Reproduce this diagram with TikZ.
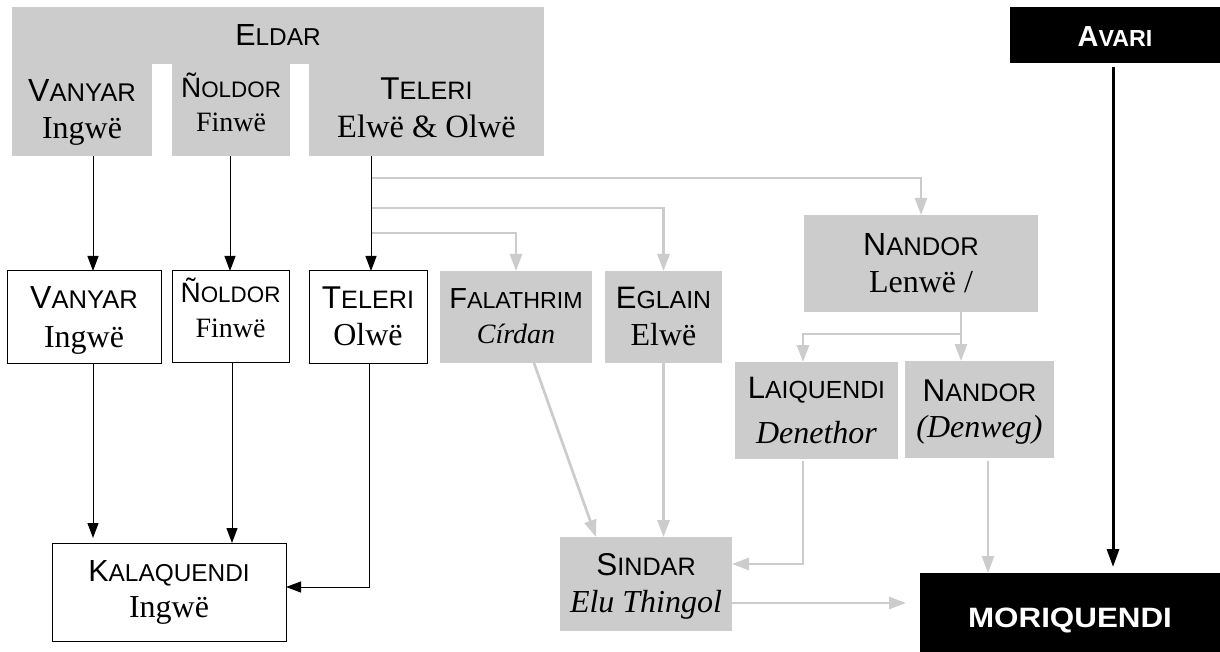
\documentclass[tikz,border=0pt]{standalone}
\usepackage{fontspec}
\setmainfont{Liberation Serif}
\setsansfont{Liberation Sans}
\usepackage{graphicx}
\usetikzlibrary{arrows.meta,calc}
\definecolor{elfgray}{HTML}{CCCCCC}
\newcommand\SCap[3]{{\sffamily\fontsize{#1pt}{#1pt}\selectfont #2\fontsize{\fpeval{0.8*#1}pt}{\fpeval{0.8*#1}pt}\selectfont #3}}
\newcommand\RLine[2]{{\rmfamily\fontsize{#1pt}{#1pt}\selectfont #2}}
\tikzset{
  gbox/.style={rectangle, fill=elfgray, inner sep=0pt, outer sep=0pt, align=center},
  wbox/.style={rectangle, draw=black, line width=1pt, fill=white, inner sep=0pt, outer sep=0pt, align=center},
  kbox/.style={rectangle, fill=black, text=white, inner sep=0pt, outer sep=0pt, font=\sffamily\bfseries},
  tl/.style 2 args={font=\fontsize{31pt}{#1pt}\selectfont, text height=#2pt, text depth=0pt},
  sz/.style 2 args={minimum width=#1pt, minimum height=#2pt},
  barrow/.style={draw=black, line width=1pt, -{Triangle[width=11pt,length=15pt]}},
  garrow/.style={draw=elfgray, line width=2.7pt, -{Triangle[width=12pt,length=17pt]}},
}
\begin{document}
\begin{tikzpicture}[x=1pt,y=-1pt]
\fill[white] (0,0) rectangle (1220,652);
\useasboundingbox (0,0) rectangle (1220,652);

% column / row helpers
\coordinate (cV) at (93,0);
\coordinate (cN) at (230,0);
\coordinate (cN2) at (232,0);
\coordinate (cT) at (371,0);
\coordinate (cT2) at (369,0);
\coordinate (cNd) at (961,0);
\coordinate (cL) at (803,0);
\coordinate (cM) at (988,0);
\coordinate (cA) at (1113,0);
\coordinate (r1) at (0,178);
\coordinate (r2) at (0,208);
\coordinate (r3) at (0,233);
\coordinate (rj) at (0,334);
\coordinate (rk) at (0,587);
\coordinate (rs) at (0,564);
\coordinate (rm) at (0,603);

% Eldar group
\node[gbox, sz={532}{57}, font=\fontsize{30pt}{30pt}\selectfont, text height=21.4pt, text depth=0pt] (eldar) at (278,35.25) {\SCap{30.5}{E}{LDAR}};
\node[gbox, sz={140}{94}, tl={36.6}{57.6}] (vanyarE) at (82,109.5) {\SCap{32}{V}{ANYAR}\\\RLine{32}{Ingwë}};
\node[gbox, sz={118}{94}, tl={34}{45}] (noldorE) at (231,109.5) {\SCap{28}{Ñ}{OLDOR}\\\RLine{28}{Finwë}};
\node[gbox, sz={235}{94}, tl={38}{57}] (teleriE) at (426.5,109.5) {\SCap{31.5}{T}{ELERI}\\\RLine{32.5}{Elwë \& Olwë}};

% Avari
\node[kbox, sz={210}{56}, text height=24pt, text depth=0pt] (avari) at (1115,35) {\SCap{29}{A}{VARI}};

% second row
\node[wbox, sz={154}{92}, tl={39}{60}] (vanyarL) at (84,317) {\SCap{32}{V}{ANYAR}\\\RLine{32}{Ingwë}};
\node[wbox, sz={117}{91}, tl={35}{41}] (noldorL) at (230.5,316.5) {\SCap{28}{Ñ}{OLDOR}\\\RLine{28}{Finwë}};
\node[wbox, sz={118}{92}, tl={37}{56}] (teleriL) at (368,317) {\SCap{31.5}{T}{ELERI}\\\RLine{32}{Olwë}};
\node[gbox, sz={152}{92}, tl={35}{52}] (falathrim) at (516,317) {\SCap{29}{F}{ALATHRIM}\\\RLine{28}{\itshape Círdan}};
\node[gbox, sz={117}{92}, tl={37}{56}] (eglain) at (663.5,317) {\SCap{31}{E}{GLAIN}\\\RLine{32}{Elwë}};
\node[gbox, sz={234}{97}, tl={37}{57}] (nandor) at (921,263.5) {\SCap{32}{N}{ANDOR}\\\RLine{32}{Lenwë /}};
\node[gbox, sz={163}{97}, tl={45}{65}] (laiquendi) at (816.5,410.5) {\SCap{31}{L}{AIQUENDI}\\\RLine{32}{\itshape Denethor}};
\node[gbox, sz={149}{97}, tl={36}{55}] (nandor2) at (979.5,409.5) {\SCap{31.5}{N}{ANDOR}\\\RLine{32}{\itshape (Denweg)}};

% bottom row
\node[wbox, sz={234}{98}, tl={36}{50}] (kalaquendi) at (169,592) {\SCap{30.5}{K}{ALAQUENDI}\\\RLine{32}{Ingwë}};
\node[gbox, sz={172}{94}, tl={37}{56}] (sindar) at (646,584) {\SCap{31.5}{S}{INDAR}\\\RLine{32}{\itshape Elu Thingol}};
\node[kbox, sz={300}{79}, text height=29pt, text depth=0pt] (moriquendi) at (1070,612.5) {\scalebox{1.12}[1]{\fontsize{28pt}{28pt}\selectfont MORIQUENDI}};

% grey connectors
\draw[garrow] (cT |- r1) -| (nandor.north);
\draw[garrow] (cT |- r2) -| (eglain.north);
\draw[garrow] (cT |- r3) -| (falathrim.north);
\draw[garrow] (eglain.south) -- (eglain.south |- sindar.north);
\draw[garrow] ([xshift=18pt]falathrim.south) -- ([xshift=-50pt]sindar.north);
\draw[garrow, shorten <=2pt] (laiquendi.south -| cL) |- (sindar.east |- rs);
\draw[garrow] (nandor.south -| cNd) |- (cL |- rj) -- (laiquendi.north -| cL);
\draw[garrow] (nandor.south -| cNd) -- (nandor2.north -| cNd);
\draw[garrow, shorten <=3pt] (nandor2.south -| cM) -- (moriquendi.north -| cM);
\draw[garrow, shorten >=14pt] (sindar.east |- rm) -- (moriquendi.west |- rm);

% black connectors
\draw[barrow] (vanyarE.south -| cV) -- (vanyarL.north -| cV);
\draw[barrow] (noldorE.south -| cN) -- (noldorL.north -| cN);
\draw[barrow] (teleriE.south -| cT) -- (teleriL.north -| cT);
\draw[barrow, shorten >=5pt] (vanyarL.south -| cV) -- (kalaquendi.north -| cV);
\draw[barrow] (noldorL.south -| cN2) -- (kalaquendi.north -| cN2);
\draw[barrow] (teleriL.south -| cT2) |- (kalaquendi.east |- rk);
\draw[black, line width=3pt, -{Triangle[width=12pt,length=18pt]}, shorten <=4pt, shorten >=6pt] (avari.south -| cA) -- (moriquendi.north -| cA);
\end{tikzpicture}
\end{document}
